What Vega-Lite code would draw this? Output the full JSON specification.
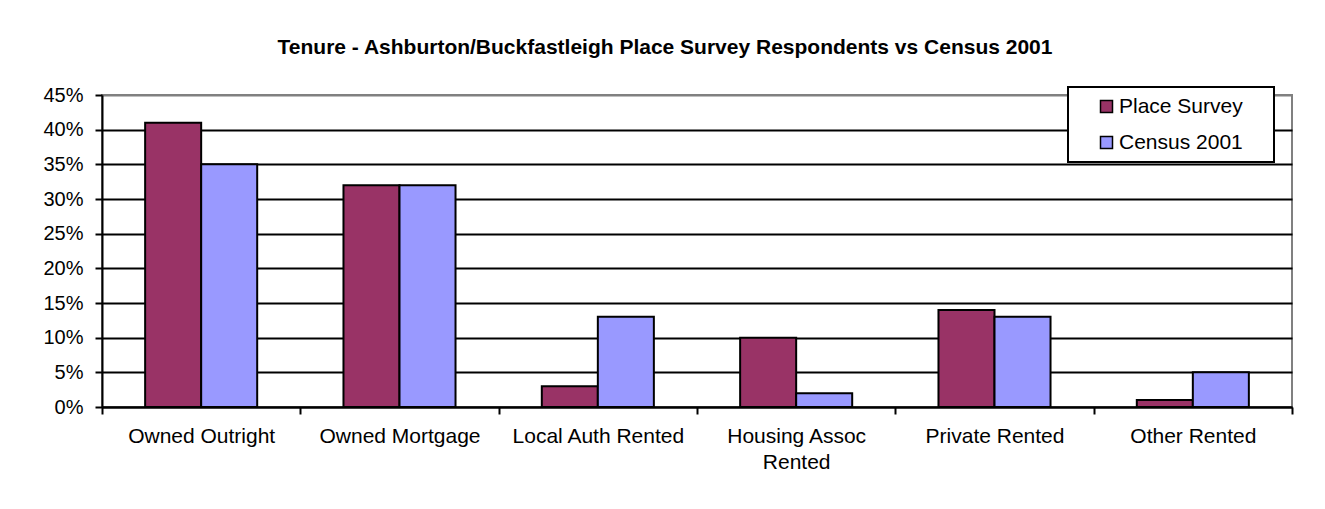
{
  "$schema": "https://vega.github.io/schema/vega-lite/v6.json",
  "width": 1190,
  "height": 312,
  "autosize": {"type": "none"},
  "padding": {"left": 102, "top": 95, "right": 33, "bottom": 102},
  "background": "white",
  "title": {
    "text": "Tenure - Ashburton/Buckfastleigh Place Survey Respondents vs Census 2001",
    "fontSize": 21,
    "fontWeight": "bold",
    "font": "Liberation Sans",
    "color": "black",
    "anchor": "middle",
    "frame": "group",
    "dx": -32,
    "baseline": "alphabetic",
    "offset": 10
  },
  "data": {
    "values": [
      {"category": "Owned Outright", "series": "Place Survey", "value": 0.41},
      {"category": "Owned Outright", "series": "Census 2001", "value": 0.35},
      {"category": "Owned Mortgage", "series": "Place Survey", "value": 0.32},
      {"category": "Owned Mortgage", "series": "Census 2001", "value": 0.32},
      {"category": "Local Auth Rented", "series": "Place Survey", "value": 0.03},
      {"category": "Local Auth Rented", "series": "Census 2001", "value": 0.13},
      {"category": "Housing Assoc Rented", "series": "Place Survey", "value": 0.10},
      {"category": "Housing Assoc Rented", "series": "Census 2001", "value": 0.02},
      {"category": "Private Rented", "series": "Place Survey", "value": 0.14},
      {"category": "Private Rented", "series": "Census 2001", "value": 0.13},
      {"category": "Other Rented", "series": "Place Survey", "value": 0.01},
      {"category": "Other Rented", "series": "Census 2001", "value": 0.05}
    ]
  },
  "mark": {"type": "bar", "stroke": "black", "strokeWidth": 2},
  "encoding": {
    "x": {
      "field": "category",
      "type": "nominal",
      "sort": ["Owned Outright", "Owned Mortgage", "Local Auth Rented", "Housing Assoc Rented", "Private Rented", "Other Rented"],
      "scale": {"paddingInner": 0, "paddingOuter": 0},
      "axis": {
        "title": null,
        "labelAngle": 0,
        "tickBand": "extent",
        "domainColor": "black",
        "domainWidth": 2,
        "tickColor": "black",
        "tickWidth": 2,
        "tickSize": 7,
        "labelFont": "Liberation Sans",
        "labelFontSize": 21,
        "labelColor": "black",
        "labelPadding": 11,
        "labelLimit": 0,
        "labelBaseline": "top",
        "labelLineHeight": 26,
        "labelExpr": "datum.label == 'Housing Assoc Rented' ? ['Housing Assoc', 'Rented'] : datum.label"
      }
    },
    "xOffset": {
      "field": "series",
      "sort": ["Place Survey", "Census 2001"],
      "scale": {"paddingInner": 0, "paddingOuter": 0.77}
    },
    "y": {
      "field": "value",
      "type": "quantitative",
      "scale": {"domain": [0, 0.45], "nice": false},
      "axis": {
        "title": null,
        "values": [0, 0.05, 0.1, 0.15, 0.2, 0.25, 0.3, 0.35, 0.4, 0.45],
        "format": ".0%",
        "grid": true,
        "gridColor": {"condition": {"test": "datum.value >= 0.449", "value": "#808080"}, "value": "black"},
        "gridWidth": 2,
        "gridOpacity": 1,
        "domainColor": "black",
        "domainWidth": 2,
        "tickColor": "black",
        "tickWidth": 2,
        "tickSize": 7,
        "labelFont": "Liberation Sans",
        "labelFontSize": 20,
        "labelColor": "black",
        "labelPadding": 12
      }
    },
    "color": {
      "field": "series",
      "type": "nominal",
      "sort": ["Place Survey", "Census 2001"],
      "scale": {"domain": ["Place Survey", "Census 2001"], "range": ["#993366", "#9999FF"]},
      "legend": {
        "title": "x",
        "titleOrient": "right",
        "titleOpacity": 0,
        "titleFontSize": 10,
        "titlePadding": 16,
        "orient": "none",
        "legendX": 966,
        "legendY": -8,
        "fillColor": "white",
        "strokeColor": "black",
        "padding": 9,
        "symbolType": "square",
        "symbolSize": 144,
        "symbolStrokeColor": "black",
        "symbolStrokeWidth": 1.5,
        "symbolOpacity": 1,
        "symbolOffset": 19,
        "labelFont": "Liberation Sans",
        "labelFontSize": 21,
        "labelColor": "black",
        "labelOffset": 2,
        "rowPadding": 14
      }
    }
  },
  "config": {
    "view": {"stroke": "#808080", "strokeWidth": 2},
    "legend": {"strokeWidth": 2}
  }
}
